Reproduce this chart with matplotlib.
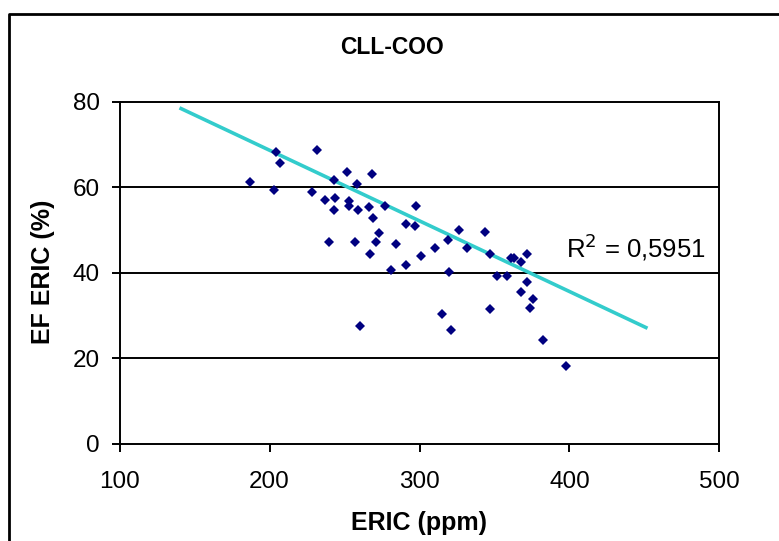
import numpy as np
import matplotlib
matplotlib.use("Agg")
import matplotlib.pyplot as plt
from matplotlib.lines import Line2D

plt.rcParams['font.family'] = ['Liberation Sans', 'DejaVu Sans']

# ERIC concentration (ppm) and EF ERIC (%)
eric_ppm = [204.4, 207.3, 187.3, 203.3,
            231.6, 243.3, 251.6, 268.4, 258.2, 228.4, 236.7, 243.8, 252.7,
            252.7, 243.3, 259.3, 266.2, 268.9, 276.7, 297.8, 291.1, 296.9,
            272.7, 271.3, 239.6, 256.9, 284.4, 267.3, 300.7, 291.1, 280.7,
            260.4,
            310.0, 319.3, 326.2, 331.6, 343.8, 347.3, 319.6, 351.6, 358.2,
            360.7, 362.7, 367.6, 371.6, 371.6, 367.6, 375.6, 374.0, 315.1,
            320.7, 347.3, 382.2, 398.0]
ef_eric = [68.3, 65.6, 61.3, 59.4,
           68.7, 61.7, 63.6, 63.2, 60.9, 59.0, 57.0, 57.6, 56.8,
           55.7, 54.7, 54.7, 55.3, 52.9, 55.7, 55.7, 51.5, 51.0,
           49.2, 47.2, 47.2, 47.2, 46.7, 44.4, 43.9, 41.7, 40.7,
           27.5,
           45.9, 47.6, 50.1, 45.9, 49.5, 44.5, 40.2, 39.3, 39.3,
           43.5, 43.5, 42.5, 44.5, 37.8, 35.5, 33.8, 31.8, 30.3,
           26.7, 31.4, 24.3, 18.1]

title = "CLL-COO"
x_label = "ERIC (ppm)"
y_label = "EF ERIC (%)"
r2_text = "R$^2$ = 0,5951"

# linear trendline: y = slope * x + intercept, drawn over the forecast range
trend_slope = -0.1655
trend_intercept = 101.8
trend_range = [140, 452]

x_ticks = [100, 200, 300, 400, 500]
y_ticks = [0, 20, 40, 60, 80]

W, H = 779, 541
fig = plt.figure(figsize=(W / 100, H / 100), dpi=100)
ax = fig.add_axes([119.5 / W, 1 - 443.5 / H, 600 / W, 341.5 / H])

tx = np.array(trend_range, dtype=float)
ax.plot(tx, trend_slope * tx + trend_intercept, color='#33CCCC', lw=2.6,
        solid_capstyle='butt', zorder=2)

ax.plot(eric_ppm, ef_eric, linestyle='none', marker='D', markersize=5.4,
        color='#000080', markeredgewidth=0, zorder=3)

ax.set_xlim(100, 500)
ax.set_ylim(0, 80)
ax.set_xticks(x_ticks)
ax.set_yticks(y_ticks)
ax.tick_params(axis='both', direction='out', length=6, width=1.4,
               labelsize=17.5, color='black')
ax.tick_params(axis='x', pad=14)
ax.tick_params(axis='y', pad=8)

for s in ax.spines.values():
    s.set_linewidth(1.4)
    s.set_color('black')

for yv in y_ticks[1:-1]:
    ax.axhline(yv, color='black', lw=1.4, zorder=1)

ax.text(398, 46, r2_text, fontsize=18.5, ha='left', va='center')

fig.text(392 / W, 1 - 47 / H, title, ha='center', va='center',
         fontsize=16.5, fontweight='bold')
fig.text(419 / W, 1 - 523 / H, x_label, ha='center', va='center',
         fontsize=18, fontweight='bold')
fig.text(43 / W, 1 - 272 / H, y_label, ha='center', va='center',
         rotation=90, fontsize=18, fontweight='bold')

# chart-area frame (runs off the right and bottom edges)
fig.add_artist(Line2D([9 / W, 9 / W, 1.01], [-0.01, 1 - 14 / H, 1 - 14 / H],
                      transform=fig.transFigure, color='black', lw=2.0))

fig.savefig("out.png", dpi=100)
